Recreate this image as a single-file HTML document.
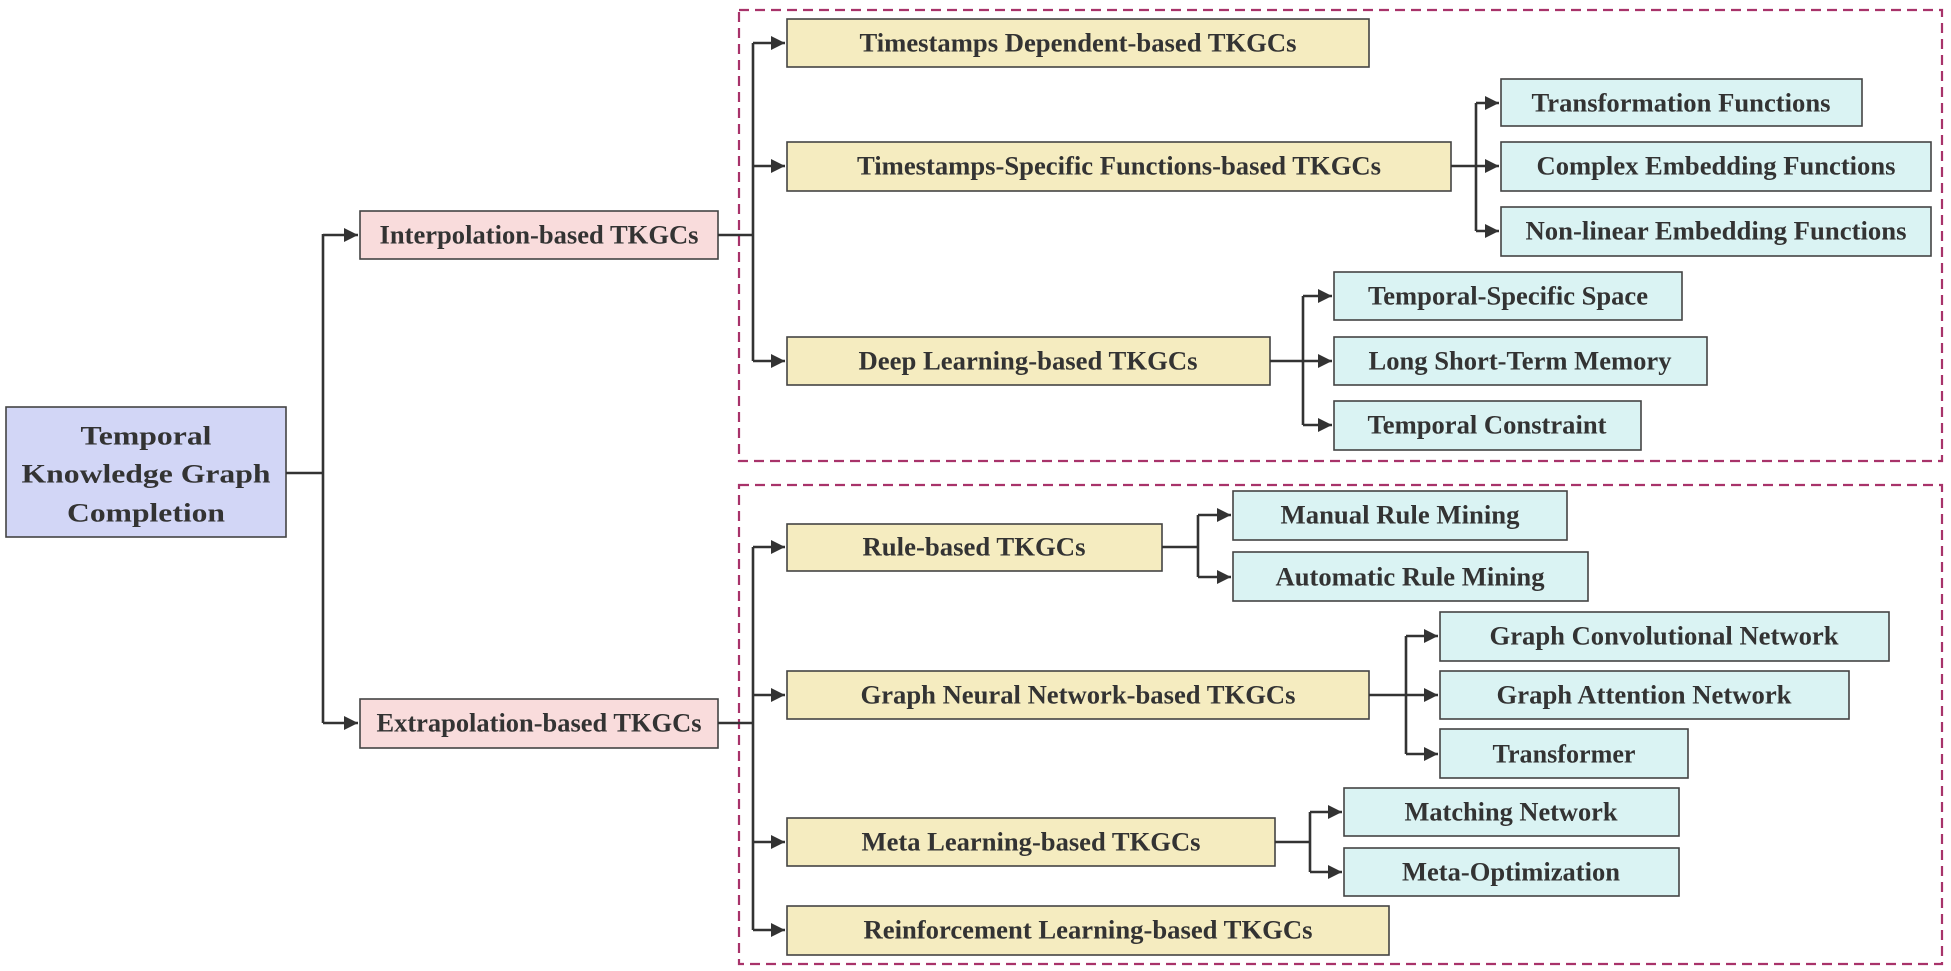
<!DOCTYPE html>
<html><head><meta charset="utf-8"><style>
html,body{margin:0;padding:0;background:#fff;}
svg{display:block;}
text{font-family:"Liberation Serif",serif;font-weight:bold;fill:#333;font-size:26px;text-anchor:middle;dominant-baseline:central;}
.y{fill:#f5ecc0;stroke:#444;stroke-width:1.6;}
.c{fill:#daf3f3;stroke:#444;stroke-width:1.6;}
.p{fill:#f9dcdc;stroke:#444;stroke-width:1.6;}
.b{fill:#d2d6f6;stroke:#444;stroke-width:1.6;}
.l{fill:none;stroke:#333;stroke-width:2.6;}
.d{fill:none;stroke:#a8336a;stroke-width:2.2;stroke-dasharray:10,6;}
</style></head><body>
<svg width="1951" height="971" viewBox="0 0 1951 971" xmlns="http://www.w3.org/2000/svg">
<defs><marker id="a" markerWidth="10" markerHeight="10" refX="9" refY="5" orient="auto" markerUnits="userSpaceOnUse"><path d="M0,0 L10,5 L0,10 Z" fill="#333" transform="scale(1)"/></marker>
<marker id="A" viewBox="0 0 10 10" markerWidth="14" markerHeight="14" refX="10" refY="5" orient="auto" markerUnits="userSpaceOnUse"><path d="M0,0 L10,5 L0,10 Z" fill="#333"/></marker></defs>

<rect class="d" x="739" y="10" width="1203" height="451"/>
<rect class="d" x="739" y="485" width="1203" height="479"/>

<!-- root -->
<rect class="b" x="6" y="407" width="280" height="130"/>
<text x="146" y="436" font-size="30" textLength="131" lengthAdjust="spacingAndGlyphs">Temporal</text>
<text x="146" y="474" font-size="30" textLength="249" lengthAdjust="spacingAndGlyphs">Knowledge Graph</text>
<text x="146" y="513" font-size="30" textLength="158" lengthAdjust="spacingAndGlyphs">Completion</text>
<path class="l" d="M286,473 H323 M323,234 V723"/>
<path class="l" d="M323,235 H358" marker-end="url(#A)"/>
<path class="l" d="M323,723 H358" marker-end="url(#A)"/>

<rect class="p" x="360" y="211" width="358" height="48"/>
<text x="539" y="235" textLength="319" lengthAdjust="spacingAndGlyphs">Interpolation-based TKGCs</text>
<rect class="p" x="360" y="699" width="358" height="49"/>
<text x="539" y="723" textLength="325" lengthAdjust="spacingAndGlyphs">Extrapolation-based TKGCs</text>

<!-- interp trunk -->
<path class="l" d="M718,235 H753 M753,43 V361"/>
<path class="l" d="M753,43 H785" marker-end="url(#A)"/>
<path class="l" d="M753,166 H785" marker-end="url(#A)"/>
<path class="l" d="M753,361 H785" marker-end="url(#A)"/>

<rect class="y" x="787" y="19" width="582" height="48"/>
<text x="1078" y="43" textLength="437" lengthAdjust="spacingAndGlyphs">Timestamps Dependent-based TKGCs</text>
<rect class="y" x="787" y="142" width="664" height="49"/>
<text x="1119" y="166" textLength="524" lengthAdjust="spacingAndGlyphs">Timestamps-Specific Functions-based TKGCs</text>
<rect class="y" x="787" y="337" width="483" height="48"/>
<text x="1028" y="361" textLength="339" lengthAdjust="spacingAndGlyphs">Deep Learning-based TKGCs</text>

<path class="l" d="M1451,166 H1476 M1476,103 V231"/>
<path class="l" d="M1476,103 H1499" marker-end="url(#A)"/>
<path class="l" d="M1476,166 H1499" marker-end="url(#A)"/>
<path class="l" d="M1476,231 H1499" marker-end="url(#A)"/>
<rect class="c" x="1501" y="79" width="361" height="47"/>
<text x="1681" y="103" textLength="299" lengthAdjust="spacingAndGlyphs">Transformation Functions</text>
<rect class="c" x="1501" y="142" width="430" height="49"/>
<text x="1716" y="166" textLength="359" lengthAdjust="spacingAndGlyphs">Complex Embedding Functions</text>
<rect class="c" x="1501" y="207" width="430" height="49"/>
<text x="1716" y="231" textLength="381" lengthAdjust="spacingAndGlyphs">Non-linear Embedding Functions</text>

<path class="l" d="M1270,361 H1303 M1303,296 V425"/>
<path class="l" d="M1303,296 H1332" marker-end="url(#A)"/>
<path class="l" d="M1303,361 H1332" marker-end="url(#A)"/>
<path class="l" d="M1303,425 H1332" marker-end="url(#A)"/>
<rect class="c" x="1334" y="272" width="348" height="48"/>
<text x="1508" y="296" textLength="280" lengthAdjust="spacingAndGlyphs">Temporal-Specific Space</text>
<rect class="c" x="1334" y="337" width="373" height="48"/>
<text x="1520" y="361" textLength="303" lengthAdjust="spacingAndGlyphs">Long Short-Term Memory</text>
<rect class="c" x="1334" y="401" width="307" height="49"/>
<text x="1487" y="425" textLength="239" lengthAdjust="spacingAndGlyphs">Temporal Constraint</text>

<!-- extrap trunk -->
<path class="l" d="M718,723 H753 M753,547 V930"/>
<path class="l" d="M753,547 H785" marker-end="url(#A)"/>
<path class="l" d="M753,695 H785" marker-end="url(#A)"/>
<path class="l" d="M753,842 H785" marker-end="url(#A)"/>
<path class="l" d="M753,930 H785" marker-end="url(#A)"/>

<rect class="y" x="787" y="524" width="375" height="47"/>
<text x="974" y="547" textLength="223" lengthAdjust="spacingAndGlyphs">Rule-based TKGCs</text>
<rect class="y" x="787" y="671" width="582" height="48"/>
<text x="1078" y="695" textLength="435" lengthAdjust="spacingAndGlyphs">Graph Neural Network-based TKGCs</text>
<rect class="y" x="787" y="818" width="488" height="48"/>
<text x="1031" y="842" textLength="339" lengthAdjust="spacingAndGlyphs">Meta Learning-based TKGCs</text>
<rect class="y" x="787" y="906" width="602" height="49"/>
<text x="1088" y="930" textLength="449" lengthAdjust="spacingAndGlyphs">Reinforcement Learning-based TKGCs</text>

<path class="l" d="M1162,547 H1198 M1198,515 V577"/>
<path class="l" d="M1198,515 H1231" marker-end="url(#A)"/>
<path class="l" d="M1198,577 H1231" marker-end="url(#A)"/>
<rect class="c" x="1233" y="491" width="334" height="49"/>
<text x="1400" y="515" textLength="239" lengthAdjust="spacingAndGlyphs">Manual Rule Mining</text>
<rect class="c" x="1233" y="552" width="355" height="49"/>
<text x="1410" y="577" textLength="269" lengthAdjust="spacingAndGlyphs">Automatic Rule Mining</text>

<path class="l" d="M1369,695 H1406 M1406,636 V754"/>
<path class="l" d="M1406,636 H1438" marker-end="url(#A)"/>
<path class="l" d="M1406,695 H1438" marker-end="url(#A)"/>
<path class="l" d="M1406,754 H1438" marker-end="url(#A)"/>
<rect class="c" x="1440" y="612" width="449" height="49"/>
<text x="1664" y="636" textLength="349" lengthAdjust="spacingAndGlyphs">Graph Convolutional Network</text>
<rect class="c" x="1440" y="671" width="409" height="48"/>
<text x="1644" y="695" textLength="295" lengthAdjust="spacingAndGlyphs">Graph Attention Network</text>
<rect class="c" x="1440" y="729" width="248" height="49"/>
<text x="1564" y="754" textLength="143" lengthAdjust="spacingAndGlyphs">Transformer</text>

<path class="l" d="M1275,842 H1310 M1310,812 V872"/>
<path class="l" d="M1310,812 H1342" marker-end="url(#A)"/>
<path class="l" d="M1310,872 H1342" marker-end="url(#A)"/>
<rect class="c" x="1344" y="788" width="335" height="48"/>
<text x="1511" y="812" textLength="213" lengthAdjust="spacingAndGlyphs">Matching Network</text>
<rect class="c" x="1344" y="848" width="335" height="48"/>
<text x="1511" y="872" textLength="218" lengthAdjust="spacingAndGlyphs">Meta-Optimization</text>
</svg>
</body></html>
